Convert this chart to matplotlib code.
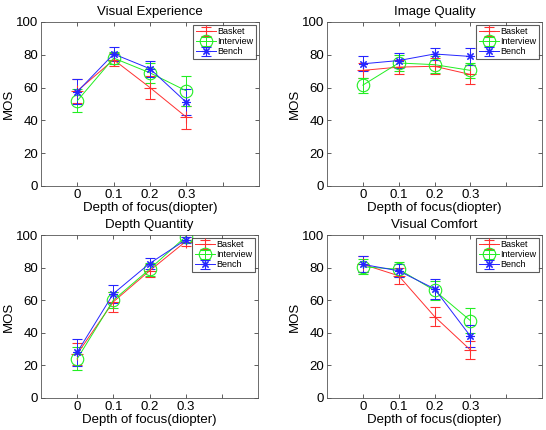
import matplotlib.pyplot as plt

plt.rcParams['font.family'] = ['Liberation Sans', 'DejaVu Sans']

depth = [0, 0.1, 0.2, 0.3]
series = ['Basket', 'Interview', 'Bench']
titles = ['Visual Experience', 'Image Quality', 'Depth Quantity', 'Visual Comfort']

# visual experience
ve_mean = [[58, 77, 60, 42], [52, 78, 69, 58], [57.5, 80.5, 71.5, 51]]
ve_err = [[7.5, 4, 7, 7], [7, 3.5, 6, 9], [7.5, 4.5, 5, 8]]
# image quality
iq_mean = [[70.5, 72.5, 73, 68], [61.5, 75, 74, 70.5], [74.5, 76.5, 80.5, 79]]
iq_err = [[4.5, 4.5, 5, 6], [4.5, 5, 5, 4.5], [4.5, 4.5, 3.5, 5]]
# depth quantity
dq_mean = [[27, 59, 78, 96], [24, 60, 79, 99], [28, 64, 82.5, 97]]
dq_err = [[7, 6, 4, 2.5], [7, 5, 4, 2], [8.5, 5.5, 3.5, 2]]
# visual comfort
vc_mean = [[82, 75, 50, 29.5], [80.5, 79, 66, 47.5], [82, 78, 67, 38]]
vc_err = [[5, 5, 6, 5.5], [4.5, 4.5, 6, 7.5], [5, 4, 6, 7]]

means = [ve_mean, iq_mean, dq_mean, vc_mean]
errs = [ve_err, iq_err, dq_err, vc_err]

colors = ['#ff3030', '#22ee22', '#2525ff']
markers = ['+', 'o', (8, 2, 0)]
msizes = [9, 9, 6]

fig = plt.figure(figsize=(5.46, 4.3), dpi=100)
# axes boxes in pixels: left, top, right, bottom
boxes = [(41, 22, 259, 186), (327, 22, 542, 186),
         (41, 235, 258, 398), (327, 235, 542, 398)]
W, H = 546.0, 430.0

for i in range(4):
    l, t, r, b = boxes[i]
    ax = fig.add_axes([l / W, 1 - b / H, (r - l) / W, (b - t) / H])
    for j in range(3):
        ax.errorbar(depth, means[i][j], yerr=errs[i][j], color=colors[j],
                    marker=markers[j], markersize=msizes[j], markerfacecolor='none',
                    markeredgewidth=0.8, linewidth=0.7, elinewidth=0.7,
                    capsize=3.5, capthick=0.7, label=series[j])
    ax.set_xlim(-0.1, 0.5)
    ax.set_ylim(0, 100)
    ax.set_xticks([0, 0.1, 0.2, 0.3, 0.4])
    ax.set_xticklabels(['0', '0.1', '0.2', '0.3', ''])
    ax.set_yticks([0, 20, 40, 60, 80, 100])
    ax.tick_params(direction='in', top=True, right=True, labelsize=9.5,
                   length=3, width=0.6, pad=2, color='#444444')
    for s in ax.spines.values():
        s.set_linewidth(0.6)
        s.set_color('#555555')
    ax.set_title(titles[i], fontsize=9.5, pad=5)
    ax.set_xlabel('Depth of focus(diopter)', fontsize=9.5, labelpad=1)
    ax.set_ylabel('MOS', fontsize=9.5, labelpad=1)
    leg = ax.legend(loc='upper right', fontsize=6.5, frameon=True, fancybox=False,
                    borderpad=0.3, labelspacing=0.1, handlelength=2.2,
                    handletextpad=0.2, borderaxespad=0.3)
    leg.get_frame().set_edgecolor('#333333')
    leg.get_frame().set_linewidth(0.8)

fig.savefig('out.png', dpi=100)
